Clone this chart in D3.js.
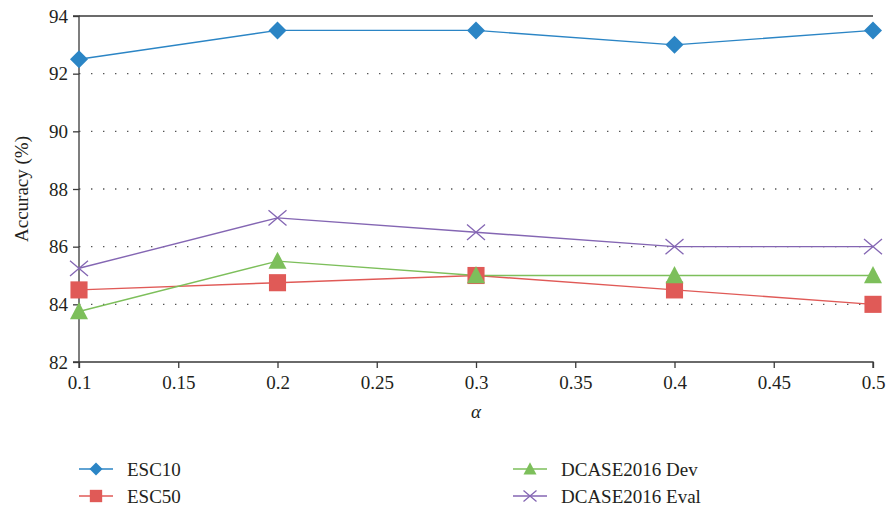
<!DOCTYPE html>
<html lang="en">
<meta charset="utf-8">
<script src="https://d3js.org/d3.v7.min.js"></script>
<style>
  body { margin: 0; background: #fff; }
  text { font-family: "Liberation Serif", "DejaVu Serif", serif; fill: #231f20; }
</style>
<body>
<div id="chart"></div>
<script>
var alphas = [0.1, 0.2, 0.3, 0.4, 0.5];
var xTicks = [0.1, 0.15, 0.2, 0.25, 0.3, 0.35, 0.4, 0.45, 0.5];
var yTicks = [82, 84, 86, 88, 90, 92, 94];

var esc10 = [92.5, 93.5, 93.5, 93.0, 93.5];
var esc50 = [84.5, 84.75, 85.0, 84.5, 84.0];
var dcaseDev = [83.75, 85.5, 85.0, 85.0, 85.0];
var dcaseEval = [85.25, 87.0, 86.5, 86.0, 86.0];

var series = [
  {name: "ESC10", values: esc10, color: "#2b85c5", shape: "diamond"},
  {name: "ESC50", values: esc50, color: "#e05a57", shape: "square"},
  {name: "DCASE2016 Dev", values: dcaseDev, color: "#7dbf5b", shape: "triangle"},
  {name: "DCASE2016 Eval", values: dcaseEval, color: "#8466b3", shape: "cross"}
];

var W = 889, H = 509;
var margin = {top: 16, right: 16, bottom: 147, left: 79},
    width = W - margin.left - margin.right,
    height = H - margin.top - margin.bottom;

var svg = d3.select("#chart").append("svg")
    .attr("width", W).attr("height", H);
var g = svg.append("g")
    .attr("transform", "translate(" + margin.left + "," + margin.top + ")");

var x = d3.scaleLinear().domain([0.1, 0.5]).range([0, width]);
var y = d3.scaleLinear().domain([82, 94]).range([height, 0]);

// dotted gridlines
g.selectAll(".grid").data(yTicks.filter(function(d){ return d > 82 && d < 94; }))
  .enter().append("line")
    .attr("x1", 0).attr("x2", width)
    .attr("y1", function(d){ return y(d); }).attr("y2", function(d){ return y(d); })
    .attr("stroke", "#555").attr("stroke-width", 1.4)
    .attr("stroke-dasharray", "1.4,10.6");

// top border
g.append("line").attr("x1", 0).attr("x2", width).attr("y1", 0).attr("y2", 0)
  .attr("stroke", "#3a3a3a").attr("stroke-width", 1.3);

var xAxis = g.append("g").attr("transform", "translate(0," + height + ")")
  .call(d3.axisBottom(x).tickValues(xTicks).tickSize(6).tickPadding(8)
        .tickFormat(function(d){ return String(d); }));
var yAxis = g.append("g")
  .call(d3.axisLeft(y).tickValues(yTicks).tickSize(6).tickPadding(5));
[xAxis, yAxis].forEach(function(a){
  a.select(".domain").attr("stroke", "#3a3a3a").attr("stroke-width", 1.3);
  a.selectAll(".tick line").attr("stroke", "#3a3a3a").attr("stroke-width", 1.3);
  a.selectAll("text").style("font-size", "19px").attr("fill", "#231f20")
   .style("font-family", "'Liberation Serif', serif");
});
xAxis.select(".domain").attr("d", "M0,6V0H" + width + "V6");
yAxis.select(".domain").attr("d", "M-6,0H0V" + height + "H-6");

// axis titles
svg.append("text")
  .attr("transform", "translate(21," + (margin.top + height / 2) + ") rotate(-90)")
  .attr("text-anchor", "middle").attr("dominant-baseline", "central")
  .style("font-size", "19px").text("Accuracy (%)");
svg.append("text")
  .attr("x", margin.left + width / 2).attr("y", 418)
  .attr("text-anchor", "middle").style("font-size", "19px").style("font-style", "italic")
  .text("\u03b1");

function marker(sel, shape, color, s) {
  if (shape === "diamond") {
    sel.append("path").attr("d", "M0," + (-s) + "L" + s + ",0L0," + s + "L" + (-s) + ",0Z")
      .attr("fill", color);
  } else if (shape === "square") {
    sel.append("rect").attr("x", -s * 0.95).attr("y", -s * 0.95)
      .attr("width", s * 1.9).attr("height", s * 1.9).attr("fill", color);
  } else if (shape === "triangle") {
    sel.append("path").attr("d", "M0," + (-s * 1.05) + "L" + s + "," + (s * 0.85) + "L" + (-s) + "," + (s * 0.85) + "Z")
      .attr("fill", color);
  } else {
    sel.append("path").attr("d", "M" + (-s) + "," + (-s * 0.85) + "L" + s + "," + (s * 0.85) +
        "M" + s + "," + (-s * 0.85) + "L" + (-s) + "," + (s * 0.85))
      .attr("stroke", color).attr("stroke-width", 1.3).attr("fill", "none");
  }
}

var line = d3.line()
  .x(function(d, i){ return x(alphas[i]); })
  .y(function(d){ return y(d); });

series.forEach(function(s) {
  g.append("path").datum(s.values)
    .attr("d", line).attr("fill", "none")
    .attr("stroke", s.color).attr("stroke-width", 1.4);
});
series.forEach(function(s) {
  s.values.forEach(function(v, i) {
    var m = g.append("g").attr("transform", "translate(" + x(alphas[i]) + "," + y(v) + ")");
    marker(m, s.shape, s.color, 9);
  });
});

// legend
var legPos = [[79, 469], [79, 496], [513, 469], [513, 496]];
series.forEach(function(s, i) {
  var lg = svg.append("g").attr("transform", "translate(" + legPos[i][0] + "," + legPos[i][1] + ")");
  lg.append("line").attr("x1", 0).attr("x2", 34).attr("y1", 0).attr("y2", 0)
    .attr("stroke", s.color).attr("stroke-width", 1.4);
  var m = lg.append("g").attr("transform", "translate(17,0)");
  marker(m, s.shape, s.color, 6.5);
  lg.append("text").attr("x", 48).attr("y", 0).attr("dominant-baseline", "central")
    .style("font-size", "19px").text(s.name);
});
</script>
</body>
</html>
